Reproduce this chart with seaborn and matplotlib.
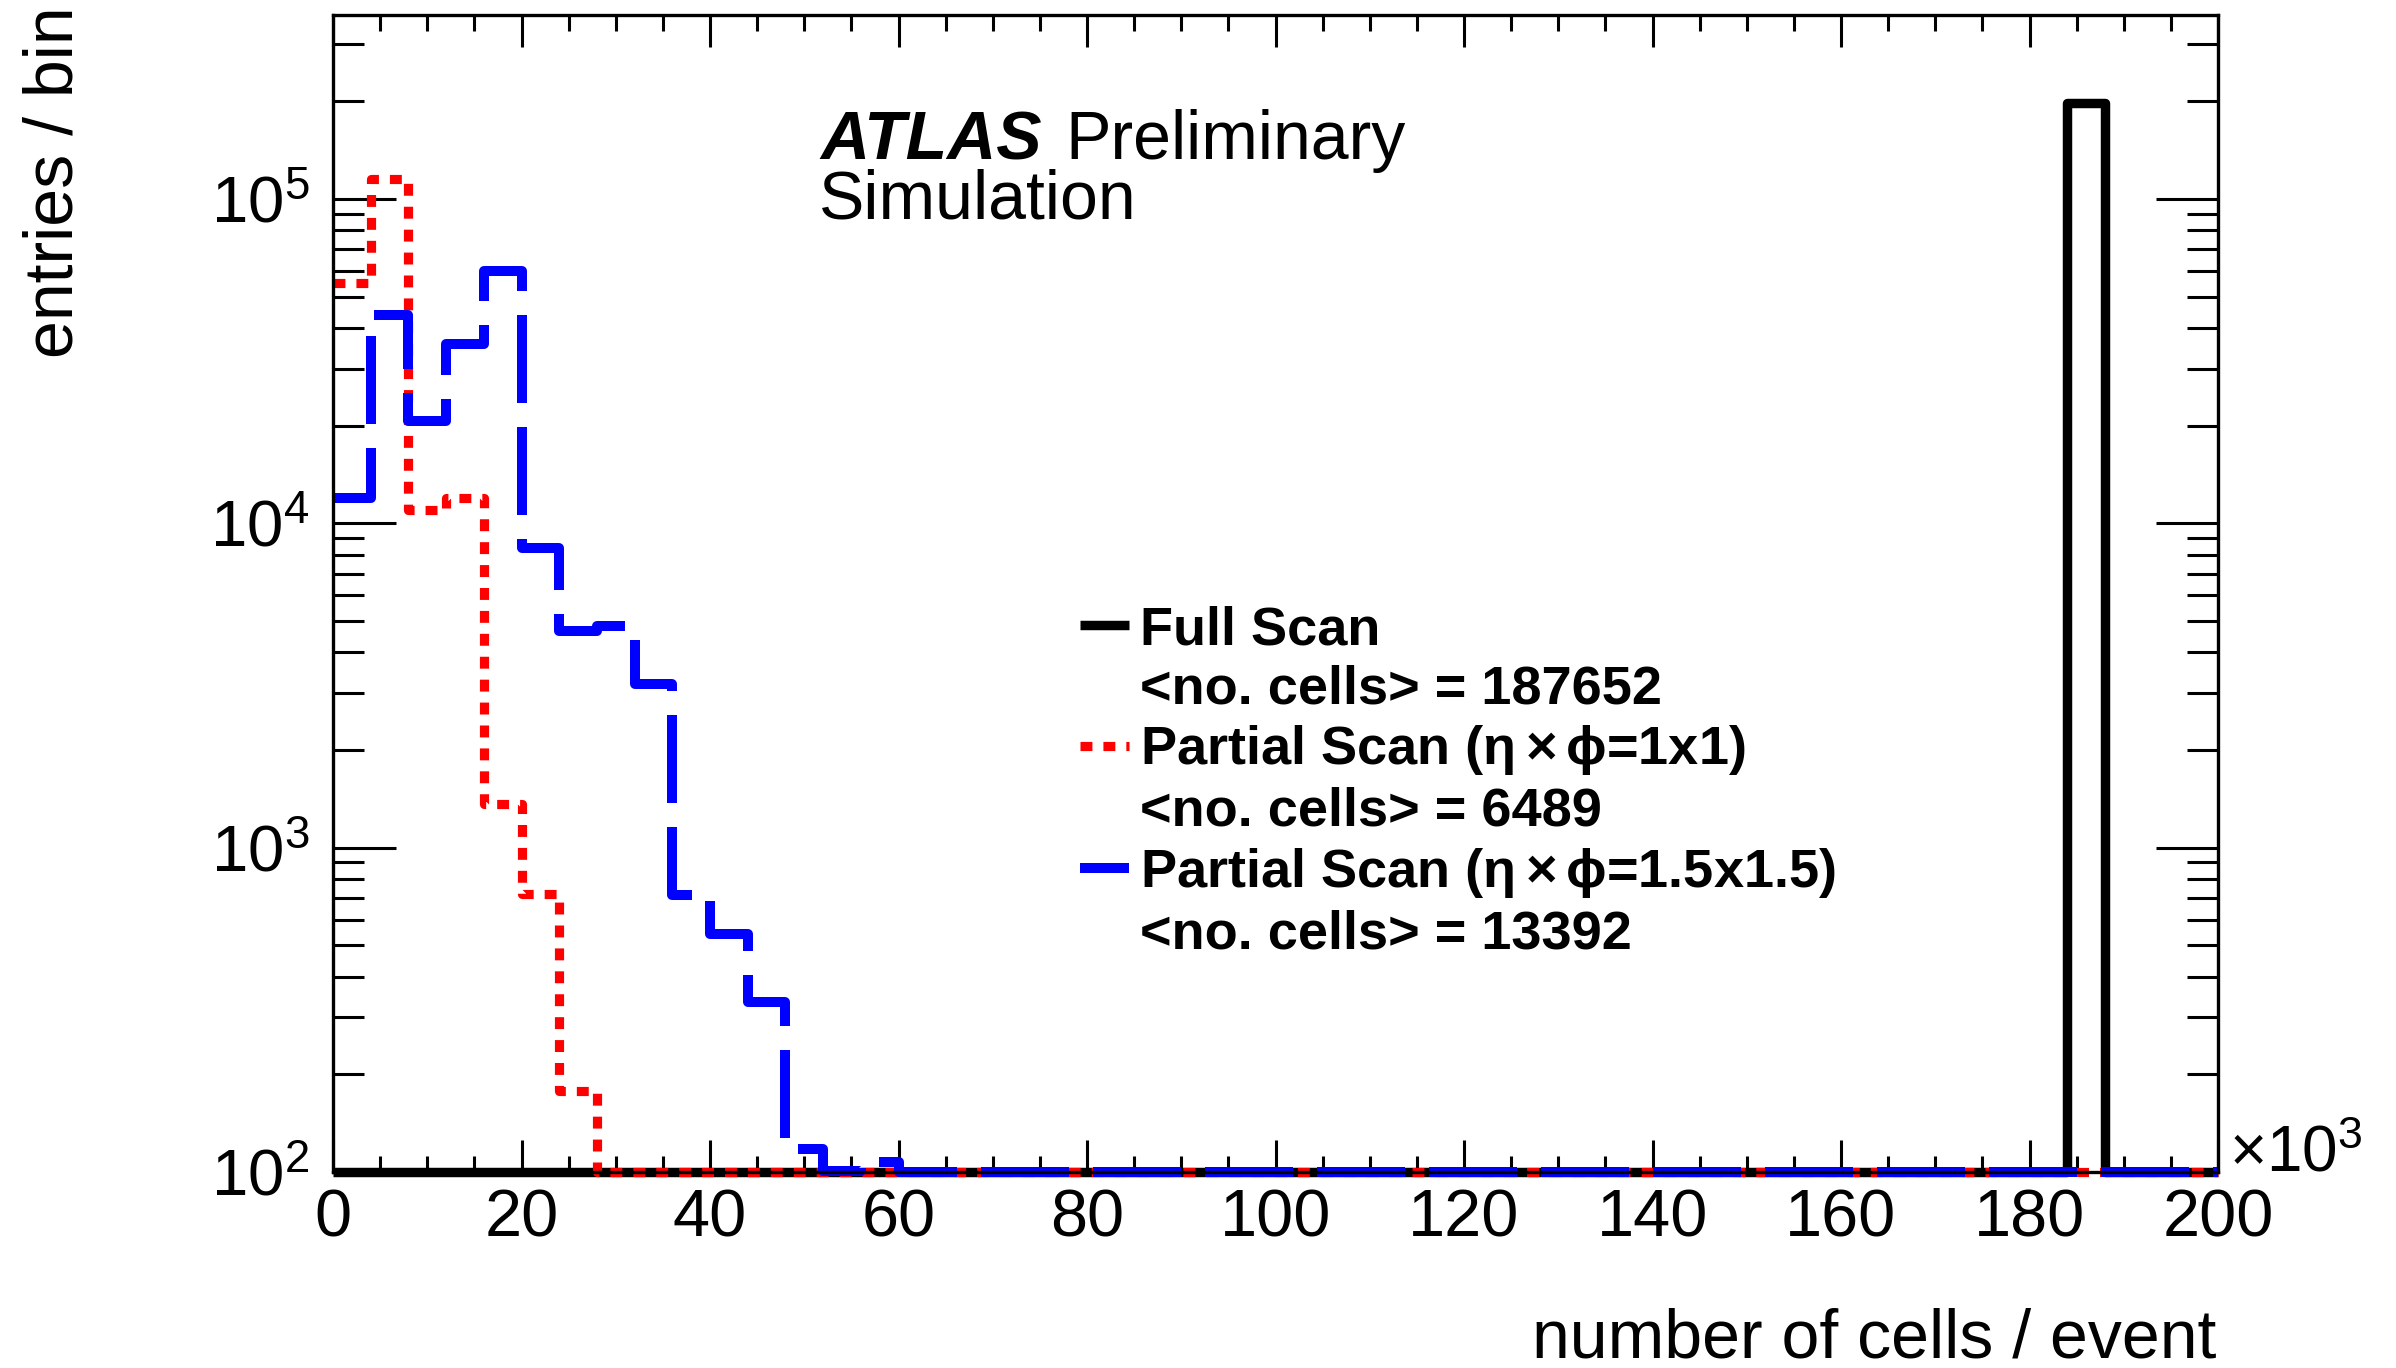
import numpy as np
import pandas as pd
import matplotlib
matplotlib.use("Agg")
import matplotlib.pyplot as plt
from matplotlib.lines import Line2D
from matplotlib.ticker import MultipleLocator, LogLocator, NullFormatter
import seaborn as sns

# ---------------- data (number of cells per event, in units of 10^3) -------------
bin_edges = list(range(0, 204, 4))          # 50 bins of 4k cells, 0 .. 200k
full_scan = [0, 0, 0, 0, 0, 0, 0, 0, 0, 0,
             0, 0, 0, 0, 0, 0, 0, 0, 0, 0,
             0, 0, 0, 0, 0, 0, 0, 0, 0, 0,
             0, 0, 0, 0, 0, 0, 0, 0, 0, 0,
             0, 0, 0, 0, 0, 0, 198000, 0, 0, 0]
partial_1x1 = [55000, 115000, 11000, 12000, 1360, 720, 178, 0, 0, 0,
               0, 0, 0, 0, 0, 0, 0, 0, 0, 0,
               0, 0, 0, 0, 0, 0, 0, 0, 0, 0,
               0, 0, 0, 0, 0, 0, 0, 0, 0, 0,
               0, 0, 0, 0, 0, 0, 0, 0, 0, 0]
partial_15x15 = [12000, 43800, 20600, 35800, 60000, 8400, 4660, 4840, 3190, 717,
                 541, 334, 118, 101, 107, 0, 0, 0, 0, 0,
                 0, 0, 0, 0, 0, 0, 0, 0, 0, 0,
                 0, 0, 0, 0, 0, 0, 0, 0, 0, 0,
                 0, 0, 0, 0, 0, 0, 0, 0, 0, 0]
series_labels = ["Full Scan", "Partial Scan ($\\mathregular{\\eta\\times\\phi}$=1x1)",
                 "Partial Scan ($\\mathregular{\\eta\\times\\phi}$=1.5x1.5)"]
mean_labels = ["<no. cells> = 187652", "<no. cells> = 6489", "<no. cells> = 13392"]
xtick_values = [0, 20, 40, 60, 80, 100, 120, 140, 160, 180, 200]

# ---------------- style ---------------------------------------------------------
sns.set_theme(style="ticks")
plt.rcParams['font.family'] = ['Liberation Sans', 'DejaVu Sans']
plt.rcParams['mathtext.fontset'] = 'custom'
plt.rcParams['mathtext.rm'] = 'Liberation Sans'
plt.rcParams['mathtext.it'] = 'Liberation Sans:italic'
plt.rcParams['mathtext.bf'] = 'Liberation Sans:bold'
for key in ['text.color', 'axes.labelcolor', 'xtick.color', 'ytick.color',
            'xtick.labelcolor', 'ytick.labelcolor', 'axes.edgecolor']:
    plt.rcParams[key] = 'black'

W, H = 2396, 1368
fig = plt.figure(figsize=(W / 100, H / 100), dpi=100)
ax = fig.add_axes([333 / W, 1 - 1172 / H, (2218 - 333) / W, (1172 - 15) / H])

ymin, ymax = 100, 3.69e5
centers = [(a + b) / 2 for a, b in zip(bin_edges[:-1], bin_edges[1:])]

styles = [
    dict(color="black", linewidth=6.8, linestyle="-"),
    dict(color="#ff0000", linewidth=6.6, linestyle=(0, (1.3, 1.2))),
    dict(color="#0000ff", linewidth=7.2, linestyle=(0, (8.8, 2.4))),
]
all_counts = [full_scan, partial_1x1, partial_15x15]
for counts, st in zip(all_counts, styles):
    shown = np.clip(np.asarray(counts, dtype=float), ymin, None)   # empty bins drawn on the floor
    df = pd.DataFrame({"cells": centers, "w": shown})
    sns.histplot(data=df, x="cells", weights="w", bins=bin_edges, element="step",
                 fill=False, ax=ax, solid_capstyle="butt", dash_capstyle="butt",
                 clip_on=False, **st)

ax.set_yscale("log")
ax.set_xlim(0, 200)
ax.set_ylim(ymin, ymax)
ax.set_xlabel("")
ax.set_ylabel("")

# ticks
ax.set_xticks(xtick_values)
ax.set_xticklabels([str(v) for v in xtick_values])
ax.xaxis.set_minor_locator(MultipleLocator(5))
ax.yaxis.set_major_locator(LogLocator(base=10, numticks=10))
ax.yaxis.set_minor_locator(LogLocator(base=10, subs=np.arange(2, 10), numticks=100))
ax.yaxis.set_minor_formatter(NullFormatter())
ax.tick_params(axis="both", which="both", direction="in", top=True, right=True,
               width=2.2, color="black")
ax.tick_params(axis="x", which="major", length=23, labelsize=48, pad=12)
ax.tick_params(axis="x", which="minor", length=11.5)
ax.tick_params(axis="y", which="major", length=45, labelsize=47, pad=17)
ax.tick_params(axis="y", which="minor", length=22)
for s in ax.spines.values():
    s.set_linewidth(2.4)
    s.set_color("black")

# axis titles
fig.text(55 / W, 1 - 6 / H, "entries / bin", rotation=90, ha="center", va="top", fontsize=49)
fig.text(2216 / W, 1 - 1357 / H, "number of cells / event", ha="right", va="baseline", fontsize=49)
ax.text(1.006, 0.0, r"$\times\mathregular{10^{3}}$", transform=ax.transAxes,
        ha="left", va="baseline", fontsize=46)

# ATLAS label
ax.text(0.2586, 0.8755, "ATLAS", transform=ax.transAxes, fontsize=49,
        fontweight="bold", fontstyle="italic", ha="left", va="baseline")
ax.text(0.3883, 0.8755, "Preliminary", transform=ax.transAxes, fontsize=49,
        ha="left", va="baseline")
ax.text(0.2578, 0.824, "Simulation", transform=ax.transAxes, fontsize=49,
        ha="left", va="baseline")

# legend
blank = Line2D([], [], color="none")
handles, labels = [], []
for st, lab, mean in zip(styles, series_labels, mean_labels):
    handles += [Line2D([], [], solid_capstyle="butt", dash_capstyle="butt", **st), blank]
    labels += [lab, mean]
leg = ax.legend(handles, labels, loc="upper left", bbox_to_anchor=(0.3963, 0.49),
                frameon=False, borderpad=0, borderaxespad=0, handlelength=0.9,
                handletextpad=0.2, labelspacing=0.17,
                prop={"family": "Liberation Sans", "weight": "bold", "size": 39})

fig.savefig("out.png", dpi=100)
